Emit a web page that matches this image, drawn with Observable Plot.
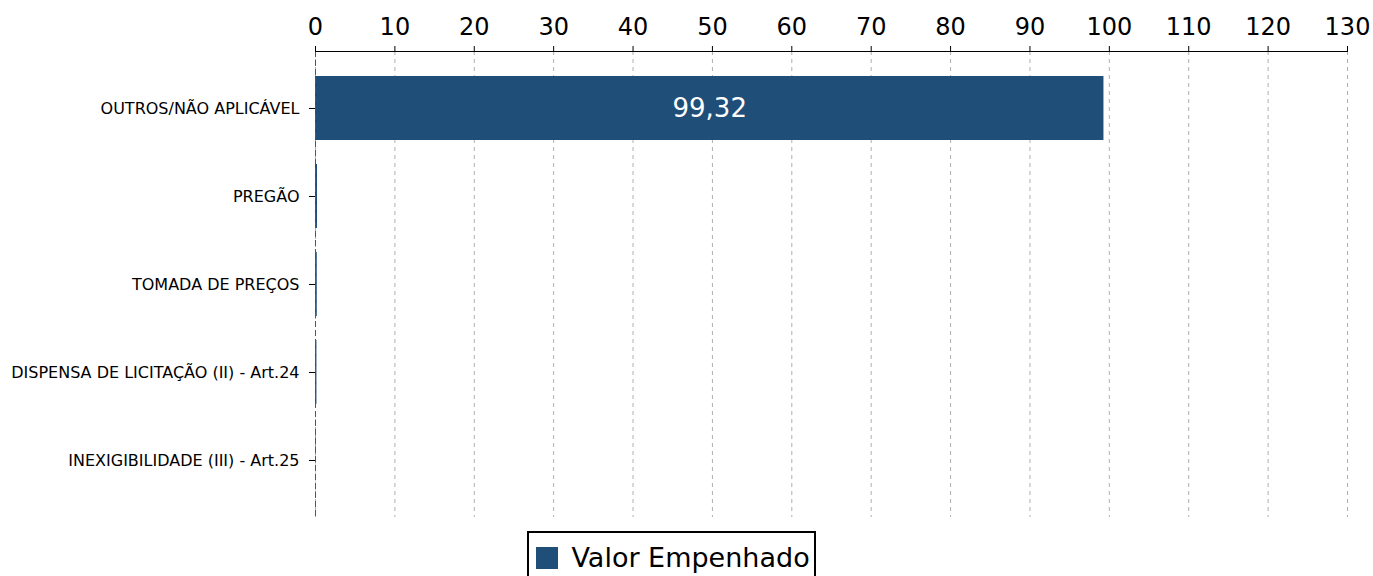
<!DOCTYPE html>
<html>
<head>
<meta charset="utf-8">
<script src="https://cdn.jsdelivr.net/npm/d3@7"></script>
<script src="https://cdn.jsdelivr.net/npm/@observablehq/plot@0.6"></script>
<style>
  body { margin: 0; background: #fff; font-family: "DejaVu Sans", sans-serif; }
  #wrap { position: relative; width: 1373px; height: 576px; overflow: hidden; }
  #legend { position: absolute; left: 527px; top: 531px; width: 289px; height: 60px; box-sizing: border-box; border: 2px solid #000; padding: 8px 0 12px 7px; background: #fff; overflow: hidden; white-space: nowrap; }
</style>
</head>
<body>
<div id="wrap">
  <div id="chart"></div>
  <div id="legend"></div>
</div>
<script>
const categories = ["OUTROS/NÃO APLICÁVEL", "PREGÃO", "TOMADA DE PREÇOS", "DISPENSA DE LICITAÇÃO (II) - Art.24", "INEXIGIBILIDADE (III) - Art.25"];
const values = [99.32, 0.25, 0.22, 0.18, 0.03];
const xTicks = [0, 10, 20, 30, 40, 50, 60, 70, 80, 90, 100, 110, 120, 130];
const seriesName = "Valor Empenhado";
const barColor = "#1f4e79";

const data = categories.map((c, i) => ({category: c, value: values[i]}));
const fmt = v => v.toFixed(2).replace(".", ",");

const chart = Plot.plot({
  width: 1373,
  height: 522,
  marginTop: 51,
  marginBottom: 5,
  marginLeft: 315,
  marginRight: 26,
  style: {fontFamily: "DejaVu Sans, sans-serif", background: "#fff"},
  x: {domain: [0, 130], axis: null},
  y: {domain: categories, paddingInner: 0.27, paddingOuter: 0.27, axis: null},
  marks: [
    Plot.gridX(xTicks, {stroke: "#b0b0b0", strokeOpacity: 1, strokeDasharray: "4,4", strokeWidth: 1}),
    Plot.barX(data, {y: "category", x: "value", fill: barColor}),
    Plot.ruleX([0], {stroke: "#555", strokeWidth: 1, strokeDasharray: "6,3"}),
    Plot.frame({anchor: "top", stroke: "#000", strokeWidth: 1}),
    Plot.axisX(xTicks, {anchor: "top", tickSize: 6, tickPadding: 11, fontSize: 24, tickFormat: d => String(d), stroke: "#000", label: null}),
    Plot.axisY({anchor: "left", tickSize: 6, tickPadding: 10, fontSize: 16, stroke: "#000", label: null}),
    Plot.text(data.filter(d => d.value > 5), {y: "category", x: d => d.value / 2, text: d => fmt(d.value), fill: "#fff", fontSize: 26})
  ]
});
document.getElementById("chart").appendChild(chart);

const legend = Plot.legend({
  color: {type: "categorical", domain: [seriesName], range: [barColor]},
  swatchSize: 22,
  style: {fontSize: "27px", fontFamily: "DejaVu Sans, sans-serif", color: "#000"}
});
document.getElementById("legend").appendChild(legend);
</script>
</body>
</html>
